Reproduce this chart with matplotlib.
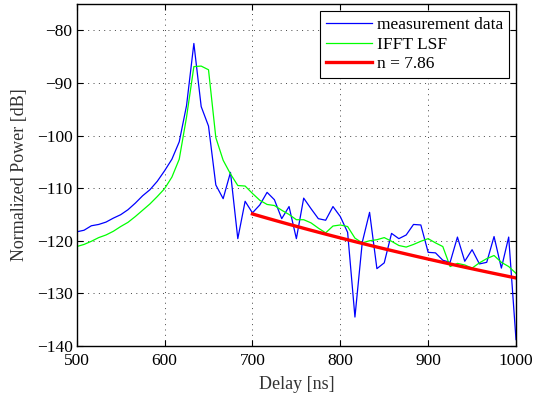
import numpy as np
import matplotlib
matplotlib.use("Agg")
import matplotlib.pyplot as plt

plt.rcParams['font.family'] = ['Liberation Serif', 'DejaVu Serif']
plt.rcParams['mathtext.fontset'] = 'stix'

delay_start = 500.0
delay_end = 1000.0
n_samples = 61

measurement_db = [
    -118.3, -118.0, -117.15, -116.9, -116.45, -115.7, -115.05, -114.1, -112.85, -111.45,
    -110.3, -108.7, -106.7, -104.5, -101.2, -94.3, -82.5, -94.5, -98.2, -109.4,
    -112.0, -107.0, -119.6, -112.5, -114.7, -113.2, -110.8, -112.2, -115.8, -113.5,
    -119.6, -111.9, -113.9, -115.8, -116.1, -113.5, -115.4, -118.4, -134.5, -120.3,
    -114.6, -125.3, -124.2, -118.6, -119.6, -118.9, -116.9, -117.0, -122.2, -122.3,
    -123.7, -124.1, -119.3, -123.9, -121.7, -124.4, -124.1, -119.2, -125.2, -119.3,
    -138.8,
]

ifft_lsf_db = [
    -121.1, -120.7, -120.1, -119.4, -118.9, -118.2, -117.3, -116.5, -115.4, -114.2,
    -113.0, -111.6, -110.1, -107.9, -104.5, -96.5, -86.9, -86.8, -87.5, -100.4,
    -104.7, -107.3, -109.5, -109.6, -111.0, -112.3, -113.1, -113.3, -114.2, -115.0,
    -116.0, -116.0, -116.6, -117.6, -118.5, -117.2, -117.0, -117.3, -119.5, -120.4,
    -120.0, -119.8, -119.4, -120.1, -120.9, -121.2, -120.7, -120.1, -119.6, -120.4,
    -121.1, -124.9, -124.3, -124.6, -125.2, -124.2, -123.4, -122.8, -124.1, -124.9,
    -126.2,
]

# fitted decay: P = P0 - 10 n log10(tau / tau0)
fit_n = 7.86
fit_tau0 = 700.0
fit_p0 = -114.9

delay = np.linspace(delay_start, delay_end, n_samples)
fit_delay = delay[(delay >= fit_tau0 - 1e-6)]
fit_db = fit_p0 - 10 * fit_n * np.log10(fit_delay / fit_tau0)

fig = plt.figure(figsize=(5.5, 3.96), dpi=100)
ax = fig.add_axes([0.1395, 0.1263, 0.7987, 0.8636])

ax.plot(delay, measurement_db, color=(0, 0, 1), lw=0.9, label='measurement data')
ax.plot(delay, ifft_lsf_db, color=(0, 1, 0), lw=0.9, label='IFFT LSF')
ax.plot(fit_delay, fit_db, color=(1, 0, 0), lw=2.4, label='n = %.2f' % fit_n)

ax.set_xlim(500, 1000)
ax.set_ylim(-140, -75)
ax.set_xticks([500, 600, 700, 800, 900, 1000])
ax.set_yticks([-140, -130, -120, -110, -100, -90, -80])
ax.grid(True, linestyle=(0, (1, 4.5)), color='#444444', lw=0.7)
ax.tick_params(direction='in', top=True, right=True, labelsize=12.5, length=4)
ax.tick_params(axis='x', pad=5)
ax.tick_params(axis='y', pad=3)
for s in ax.spines.values():
    s.set_linewidth(1.0)

ax.set_xlabel('Delay [ns]', fontsize=13, color='#333333', labelpad=5)
ax.set_ylabel('Normalized Power [dB]', fontsize=13, color='#333333', labelpad=6)

leg = ax.legend(loc='upper right', fontsize=12.5, frameon=True, fancybox=False,
                edgecolor='black', framealpha=1, handlelength=2.6,
                borderpad=0.35, labelspacing=0.2, handletextpad=0.3,
                borderaxespad=0.4)
leg.get_frame().set_linewidth(0.8)

fig.savefig('out.png', dpi=100)
